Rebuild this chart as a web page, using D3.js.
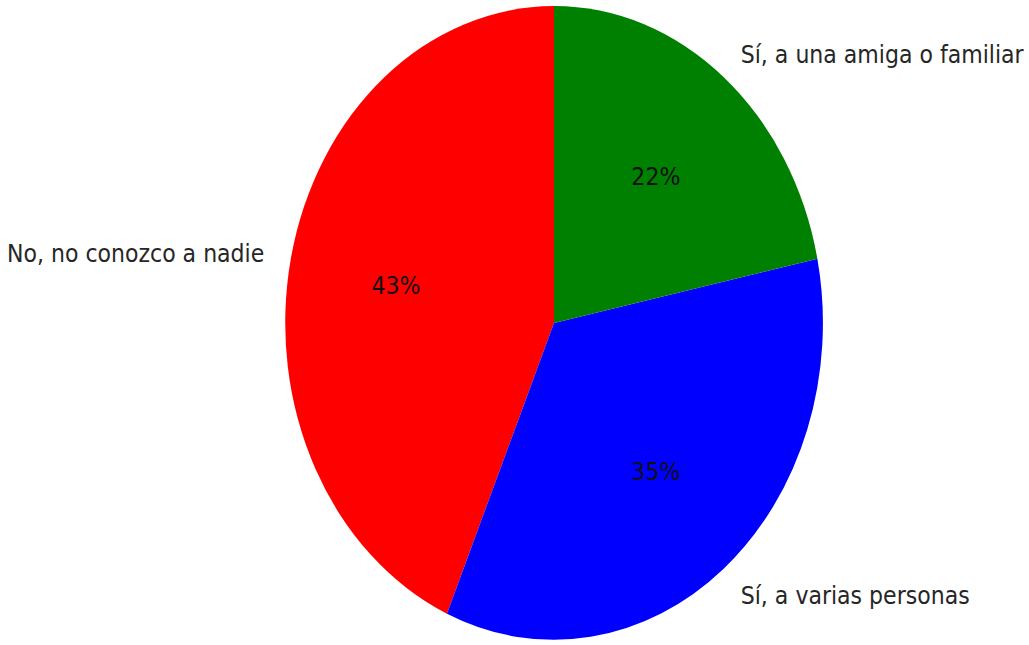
<!DOCTYPE html>
<html>
<head>
<meta charset="utf-8">
<script src="https://cdn.jsdelivr.net/npm/d3@7"></script>
<style>
  html, body { margin: 0; padding: 0; background: #fff; }
  svg { display: block; }
  text { font-family: "DejaVu Sans", sans-serif; }
</style>
</head>
<body>
<svg id="chart" width="1029" height="645"></svg>
<script>
// Survey answers (counts of respondents)
const categories = ["No, no conozco a nadie", "Sí, a varias personas", "Sí, a una amiga o familiar"];
const counts = [20, 16, 10];
const sliceColors = ["#ff0000", "#0000ff", "#008000"];

const width = 1029, height = 645;
const cx = 554, cy = 323;
const rx = 269, ry = 317;       // the pie is drawn stretched vertically
const fontSize = 24.5, textSqueeze = 0.9;

const svg = d3.select("#chart");
const total = d3.sum(counts);
const color = d3.scaleOrdinal().domain(categories).range(sliceColors);

// counter-clockwise from 12 o'clock
const pie = d3.pie().sort(null).value(d => d.value)
  .startAngle(0).endAngle(-2 * Math.PI);
const arcs = pie(categories.map((c, i) => ({ name: c, value: counts[i] })));

const arc = d3.arc().innerRadius(0).outerRadius(1);

const g = svg.append("g").attr("transform", `translate(${cx},${cy})`);

g.append("g").attr("transform", `scale(${rx},${ry})`)
  .selectAll("path").data(arcs).join("path")
  .attr("d", arc)
  .attr("fill", d => color(d.data.name));

function pos(d, r) {
  const a = (d.startAngle + d.endAngle) / 2;
  return [Math.sin(a) * r * rx, -Math.cos(a) * r * ry];
}

// category labels just outside the pie
g.selectAll("text.cat").data(arcs).join("text")
  .attr("class", "cat")
  .attr("transform", d => { const [x, y] = pos(d, 1.1); return `translate(${x},${y}) scale(${textSqueeze},1)`; })
  .attr("text-anchor", d => pos(d, 1)[0] < 0 ? "end" : "start")
  .attr("dy", "0.42em")
  .attr("font-size", fontSize)
  .attr("fill", "#262626")
  .text(d => d.data.name);

// percentage labels inside the slices
g.selectAll("text.pct").data(arcs).join("text")
  .attr("class", "pct")
  .attr("transform", d => { const [x, y] = pos(d, 0.6); return `translate(${x},${y}) scale(${textSqueeze},1)`; })
  .attr("text-anchor", "middle")
  .attr("dy", "0.38em")
  .attr("font-size", fontSize)
  .attr("fill", "#111")
  .text(d => Math.round(d.data.value / total * 100) + "%");
</script>
</body>
</html>
